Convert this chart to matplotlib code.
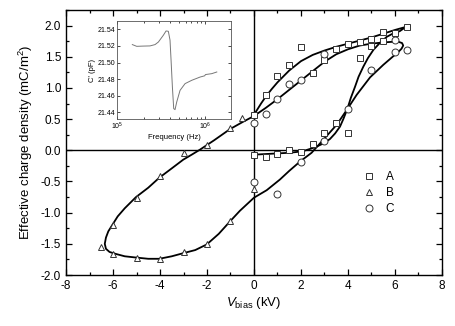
import numpy as np
import matplotlib
matplotlib.use("Agg")
import matplotlib.pyplot as plt
from matplotlib.ticker import MultipleLocator, LogLocator

plt.rcParams['font.family'] = ['Liberation Sans', 'DejaVu Sans']
plt.rcParams['mathtext.fontset'] = 'custom'
plt.rcParams['mathtext.rm'] = 'Liberation Sans'
plt.rcParams['mathtext.it'] = 'Liberation Sans:italic'

# scatter data
a_x = [0, 0.5, 1, 1.5, 2, 2.5, 3, 3.5, 4, 4.5, 5, 5.5, 6, 6.5, 5.5, 5, 4.5,
       4, 3.5, 3, 2.5, 2, 1.5, 1, 0.5, 0]
a_y = [0.57, 0.88, 1.19, 1.36, 1.65, 1.24, 1.45, 1.62, 1.70, 1.74, 1.79, 1.89, 1.88, 1.98, 1.76, 1.68, 1.48,
       0.28, 0.44, 0.27, 0.10, -0.03, 0.0, -0.06, -0.11, -0.07]

b_x = [0, -1, -2, -3, -4, -5, -6, -6.5, -6, -5, -4, -3, -2, -1, -0.5]
b_y = [-0.62, -1.14, -1.51, -1.63, -1.75, -1.72, -1.67, -1.55, -1.20, -0.76, -0.42, -0.04, 0.08, 0.35, 0.52]

c_x = [0, 0.5, 1, 1.5, 2, 3, 6, 6.5, 6, 5, 4, 3, 2, 1, 0]
c_y = [0.44, 0.58, 0.82, 1.07, 1.12, 1.55, 1.77, 1.61, 1.57, 1.28, 0.66, 0.15, -0.18, -0.70, -0.51]

# fitted loop A (drawn line)
fitA_x = [0, 0.15, 0.3, 0.5, 0.75, 1, 1.5, 2, 2.5, 3, 3.5, 4, 4.5, 5, 5.5, 6, 6.47,
          6.2, 5.9, 5.65, 5.35, 5.08, 4.85, 4.65, 4.45, 4.3, 4.12, 3.97, 3.8, 3.66, 3.45,
          3.23, 2.95, 2.67, 2.45, 2.2, 1.99, 1.5, 1.0, 0.5, 0]
fitA_y = [0.57, 0.66, 0.75, 0.86, 0.98, 1.09, 1.28, 1.43, 1.53, 1.60, 1.66, 1.71, 1.76, 1.81, 1.87, 1.93, 1.98,
          1.91, 1.87, 1.82, 1.72, 1.61, 1.48, 1.34, 1.18, 1.02, 0.84, 0.66, 0.50, 0.38, 0.27,
          0.18, 0.11, 0.06, 0.03, 0.0, -0.02, -0.04, -0.05, -0.06, -0.07]

# fitted loop B+C (drawn line)
fitBC_x = [0, 0.5, 1, 1.5, 2, 2.5, 3, 3.5, 4, 4.5, 5, 5.5, 5.9, 6.15, 6.3, 6.35, 6.28, 6.15, 5.9,
           5.5, 4.94, 4.37, 3.97, 3.52, 2.95, 2.45, 1.96, 1.5, 1.1, 0.54, 0, -0.6, -1.02, -1.5, -2.01,
           -2.5, -3.01, -3.5, -4.03, -4.5, -5.02, -5.5, -5.9, -6.15, -6.3, -6.35, -6.3, -6.2, -6.0,
           -5.8, -5.5, -5.02, -4.5, -4.03, -3.5, -3.01, -2.65, -2.3, -1.7, -1.02, -0.5, 0]
fitBC_y = [0.55, 0.68, 0.82, 0.97, 1.12, 1.27, 1.42, 1.54, 1.62, 1.68, 1.71, 1.73, 1.74, 1.74, 1.72, 1.68, 1.63,
           1.58, 1.50, 1.37, 1.17, 0.89, 0.66, 0.41, 0.17, -0.04, -0.18, -0.33, -0.47, -0.64, -0.76, -0.97,
           -1.14, -1.34, -1.51, -1.60, -1.65, -1.70, -1.74, -1.74, -1.72, -1.70, -1.66, -1.63, -1.58,
           -1.50, -1.40, -1.30, -1.18, -1.06, -0.93, -0.75, -0.60, -0.44, -0.29, -0.15, -0.07, 0.01,
           0.16, 0.34, 0.45, 0.55]

# inset: C' vs frequency
ins_logf = [5.174, 5.224, 5.30, 5.375, 5.432, 5.47, 5.526, 5.557, 5.583, 5.602, 5.614, 5.629,
            5.644, 5.659, 5.678, 5.716, 5.773, 5.849, 5.943, 5.995, 6.005, 6.076, 6.133]
ins_c = [21.5216, 21.5195, 21.5198, 21.520, 21.5216, 21.5247, 21.5328, 21.538, 21.5376, 21.527, 21.5027, 21.4705,
         21.4445, 21.4433, 21.4524, 21.4665, 21.4746, 21.4786, 21.4825, 21.4840, 21.4855, 21.4866, 21.4886]

fig = plt.figure(figsize=(4.56, 3.26), dpi=100)
ax = fig.add_axes([66/456, 1-275/326, 376/456, 265/326])

ax.axhline(0, color='black', lw=1.0, zorder=1)
ax.axvline(0, color='black', lw=1.0, zorder=1)
ax.plot(fitA_x, fitA_y, color='black', lw=1.3, zorder=2)
ax.plot(fitBC_x, fitBC_y, color='black', lw=1.3, zorder=2)

mk = dict(linestyle='none', mfc='white', mec='#333333', mew=0.7, ms=5, zorder=3)
ax.plot(a_x, a_y, marker='s', label='A', **mk)
ax.plot(b_x, b_y, marker='^', label='B', **mk)
ax.plot(c_x, c_y, marker='o', label='C', **mk)

ax.set_xlim(-8, 8)
ax.set_ylim(-2.0, 2.25)
ax.xaxis.set_major_locator(MultipleLocator(2))
ax.xaxis.set_minor_locator(MultipleLocator(1))
ax.yaxis.set_major_locator(MultipleLocator(0.5))
ax.yaxis.set_minor_locator(MultipleLocator(0.25))
ax.tick_params(which='both', direction='in', top=True, right=True, labelsize=8.5, width=0.9)
ax.tick_params(which='major', length=4)
ax.tick_params(which='minor', length=2.5)
ax.set_yticks([-2.0, -1.5, -1.0, -0.5, 0.0, 0.5, 1.0, 1.5, 2.0])
ax.set_yticklabels(['-2.0', '-1.5', '-1.0', '-0.5', '0.0', '0.5', '1.0', '1.5', '2.0'])
ax.set_xticks([-8, -6, -4, -2, 0, 2, 4, 6, 8])
ax.set_xticklabels(['-8', '-6', '-4', '-2', '0', '2', '4', '6', '8'])
for s in ax.spines.values():
    s.set_linewidth(1.0)

ax.set_xlabel(r'$\it{V}_{\rm bias}$ (kV)', fontsize=9.5, labelpad=2)
ax.set_ylabel(r'Effective charge density (mC/m$^2$)', fontsize=9.5, labelpad=4)

ax.legend(loc='upper left', bbox_to_anchor=(0.775, 0.415), frameon=False, fontsize=8.5,
          handlelength=1.0, handletextpad=0.9, labelspacing=0.35, borderpad=0, numpoints=1)

# inset
ins = fig.add_axes([117/456, 1-119/326, 114/456, 98/326])
ins.plot(10 ** np.array(ins_logf), ins_c, color='#777777', lw=0.7)
ins.set_xscale('log')
ins.set_xlim(1e5, 1.97e6)
ins.set_ylim(21.432, 21.550)
ins.set_yticks([21.44, 21.46, 21.48, 21.50, 21.52, 21.54])
ins.set_yticklabels(['21.44', '21.46', '21.48', '21.50', '21.52', '21.54'])
ins.xaxis.set_major_locator(LogLocator(base=10, numticks=5))
ins.tick_params(which='both', direction='in', top=True, right=True, labelsize=5, width=0.5, pad=1.5)
ins.tick_params(which='major', length=2.5)
ins.tick_params(which='minor', length=1.5)
for s in ins.spines.values():
    s.set_linewidth(0.6)
    s.set_color('#555555')
ins.set_xlabel('Frequency (Hz)', fontsize=5.5, labelpad=1)
ins.set_ylabel("C' (pF)", fontsize=5.5, labelpad=1)

fig.savefig('out.png', dpi=100)
